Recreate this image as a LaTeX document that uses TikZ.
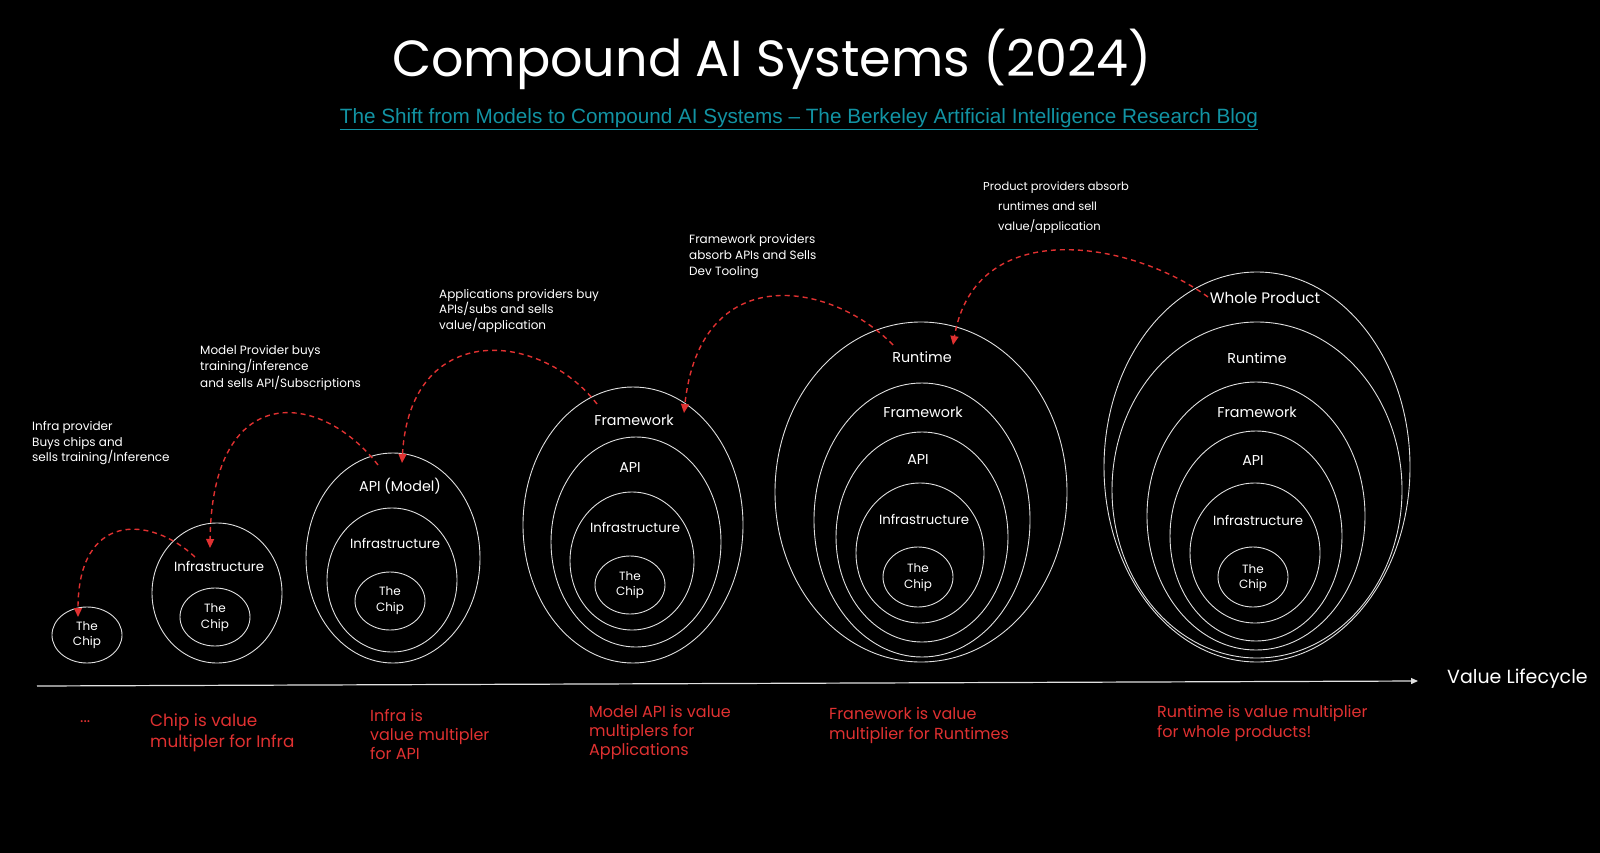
\documentclass[tikz,border=0pt]{standalone}
\usepackage{fontspec}
\newfontfamily\hand{Poppins}
\newfontfamily\arialf{Liberation Sans}
\usetikzlibrary{arrows.meta,shapes.geometric}
\definecolor{exred}{HTML}{E03131}
\definecolor{linkc}{RGB}{18,147,163}
\definecolor{ringc}{HTML}{E0E0E0}
\begin{document}
\begin{tikzpicture}[x=1pt,y=-1pt,
 ring/.style={ellipse, draw=ringc, line width=0.9pt, inner sep=0pt, outer sep=0pt},
 lbl/.style={text=white, font=\hand\fontsize{14.3}{16}\selectfont, inner sep=0pt},
 lbli/.style={text=white, font=\hand\fontsize{13.3}{16}\selectfont, inner sep=0pt},
 lbls/.style={text=white, font=\hand\fontsize{12}{15.5}\selectfont, inner sep=0pt, align=center},
 note/.style={text=white, anchor=west, align=left, inner sep=0pt},
 rednote/.style={text=exred, anchor=west, align=left, inner sep=0pt},
 flow/.style={exred, line width=1.4pt, dash pattern=on 5pt off 4pt, -{Triangle[length=9pt,width=8pt]}},
]
\fill[black] (0,0) rectangle (1600,853);
\useasboundingbox (0,0) rectangle (1600,853);

% title and link
\node[text=white, anchor=base, inner sep=0pt, font=\hand\fontsize{50.8}{60}\selectfont] (title) at (772,77) {Compound AI Systems (2024)};
\node[text=linkc, anchor=base, inner sep=0pt, font=\arialf\fontsize{20.7}{24}\selectfont] (link) at (799,124) {\underline{The Shift from Models to Compound AI Systems – The Berkeley Artificial Intelligence Research Blog}};

% group 1
\node[ring, minimum width=70pt, minimum height=56pt] (g1c) at (87,635) {};
\node[lbls] (c1) at (87,635) {The\\Chip};

% group 2
\node[ring, minimum width=130pt, minimum height=140pt] (g2o) at (217,593) {};
\node[ring, minimum width=70pt, minimum height=58pt] (g2c) at (215,617) {};
\node[lbli] (i2) at (219,566) {Infrastructure};
\node[lbls] (c2) at (215,617.5) {The\\Chip};

% group 3
\node[ring, minimum width=174pt, minimum height=210pt] (g3o) at (393,558) {};
\node[ring, minimum width=130pt, minimum height=144pt] (g3i) at (392,580) {};
\node[ring, minimum width=70pt, minimum height=58pt] (g3c) at (390,601) {};
\node[lbl] (a3) at (400,486) {API (Model)};
\node[lbli] (i3) at (395,543) {Infrastructure};
\node[lbls] (c3) at (390,600.5) {The\\Chip};

% group 4
\node[ring, minimum width=220pt, minimum height=276pt] (g4o) at (633,525) {};
\node[ring, minimum width=170pt, minimum height=210pt] (g4a) at (636,542) {};
\node[ring, minimum width=124pt, minimum height=138pt] (g4i) at (632,561) {};
\node[ring, minimum width=70pt, minimum height=58pt] (g4c) at (630,585) {};
\node[lbl] (f4) at (634,420) {Framework};
\node[lbl] (a4) at (630,468) {API};
\node[lbli] (i4) at (635,527) {Infrastructure};
\node[lbls] (c4) at (630,585) {The\\Chip};

% group 5
\node[ring, minimum width=292pt, minimum height=340pt] (g5o) at (921,492) {};
\node[ring, minimum width=216pt, minimum height=274pt] (g5f) at (922,520) {};
\node[ring, minimum width=172pt, minimum height=210pt] (g5a) at (922,537) {};
\node[ring, minimum width=128pt, minimum height=140pt] (g5i) at (920,553) {};
\node[ring, minimum width=70pt, minimum height=60pt] (g5c) at (918,577) {};
\node[lbl] (r5) at (922,357) {Runtime};
\node[lbl] (f5) at (923,412) {Framework};
\node[lbl] (a5) at (918,460) {API};
\node[lbli] (i5) at (924,519) {Infrastructure};
\node[lbls] (c5) at (918,577.5) {The\\Chip};

% group 6
\node[ring, minimum width=306pt, minimum height=390pt] (g6o) at (1257,467) {};
\node[ring, minimum width=290pt, minimum height=336pt] (g6r) at (1257,490) {};
\node[ring, minimum width=218pt, minimum height=268pt] (g6f) at (1256,516) {};
\node[ring, minimum width=172pt, minimum height=210pt] (g6a) at (1256,536) {};
\node[ring, minimum width=130pt, minimum height=140pt] (g6i) at (1255,553) {};
\node[ring, minimum width=70pt, minimum height=60pt] (g6c) at (1253,577) {};
\node[lbl, font=\hand\fontsize{15.2}{17}\selectfont] (w6) at (1265,298) {Whole Product};
\node[lbl] (r6) at (1257,358) {Runtime};
\node[lbl] (f6) at (1257,412) {Framework};
\node[lbl] (a6) at (1253,461) {API};
\node[lbli] (i6) at (1258,520) {Infrastructure};
\node[lbls] (c6) at (1253,578) {The\\Chip};

% white annotations
\node[note, font=\hand\fontsize{12}{15.5}\selectfont] (n1) at (32,443.5) {Infra provider\\Buys chips and\\sells training/Inference};
\node[note, font=\hand\fontsize{12}{16.5}\selectfont] (n2) at (200,367.5) {Model Provider buys\\training/inference\\and sells API/Subscriptions};
\node[note, font=\hand\fontsize{12}{15.5}\selectfont] (n3) at (439,310.5) {Applications providers buy\\APIs/subs and sells\\value/application};
\node[note, font=\hand\fontsize{12}{16}\selectfont] (n4) at (689,256.5) {Framework providers\\absorb APIs and Sells\\Dev Tooling};
\node[note, font=\hand\fontsize{11.5}{20}\selectfont] (n5) at (983,208) {Product providers absorb\\\hspace*{15pt}runtimes and sell\\\hspace*{15pt}value/application};

% red annotations
\node[rednote, font=\hand\fontsize{16}{20}\selectfont] (r0) at (80,722) {...};
\node[rednote, font=\hand\fontsize{16.8}{21}\selectfont] (rn1) at (150,732.5) {Chip is value\\multipler for Infra};
\node[rednote, font=\hand\fontsize{16}{19}\selectfont] (rn2) at (370,734) {Infra is\\value multipler\\for API};
\node[rednote, font=\hand\fontsize{16}{19}\selectfont] (rn3) at (589,732) {Model API is value\\multiplers for\\Applications};
\node[rednote, font=\hand\fontsize{16}{20}\selectfont] (rn4) at (829,725) {Franework is value\\multiplier for Runtimes};
\node[rednote, font=\hand\fontsize{16}{20}\selectfont] (rn5) at (1157,723) {Runtime is value multiplier\\for whole products!};

% axis
\coordinate (ax0) at (37,686);
\coordinate (ax1) at (1418,681);
\draw[ringc, line width=1.2pt, -{Triangle[length=7pt,width=6pt]}] (ax0) -- (ax1);
\node[text=white, anchor=west, inner sep=0pt, font=\hand\fontsize{19}{22}\selectfont] (vl) at (1447,679) {Value Lifecycle};

% dashed flow arrows
\draw[flow] ([shift={(-24,-9)}]i2.center) .. controls +(-45,-42) and +(0,-105) .. ([shift={(-9,-18)}]c1.center);
\draw[flow] ([shift={(-22,-21)}]a3.center) .. controls +(-58,-75) and +(2,-168) .. ([shift={(-9,-18)}]i2.center);
\draw[flow] ([shift={(-37,-16)}]f4.center) .. controls +(-57,-74) and +(8,-143) .. ([shift={(2,-23)}]a3.center);
\draw[flow] ([shift={(-29,-12)}]r5.center) .. controls +(-63,-65) and +(16,-153) .. ([shift={(50,-7)}]f4.center);
\draw[flow] ([shift={(-57,-1)}]w6.center) .. controls +(-78,-57) and +(22,-130) .. ([shift={(31,-12)}]r5.center);
\end{tikzpicture}
\end{document}
